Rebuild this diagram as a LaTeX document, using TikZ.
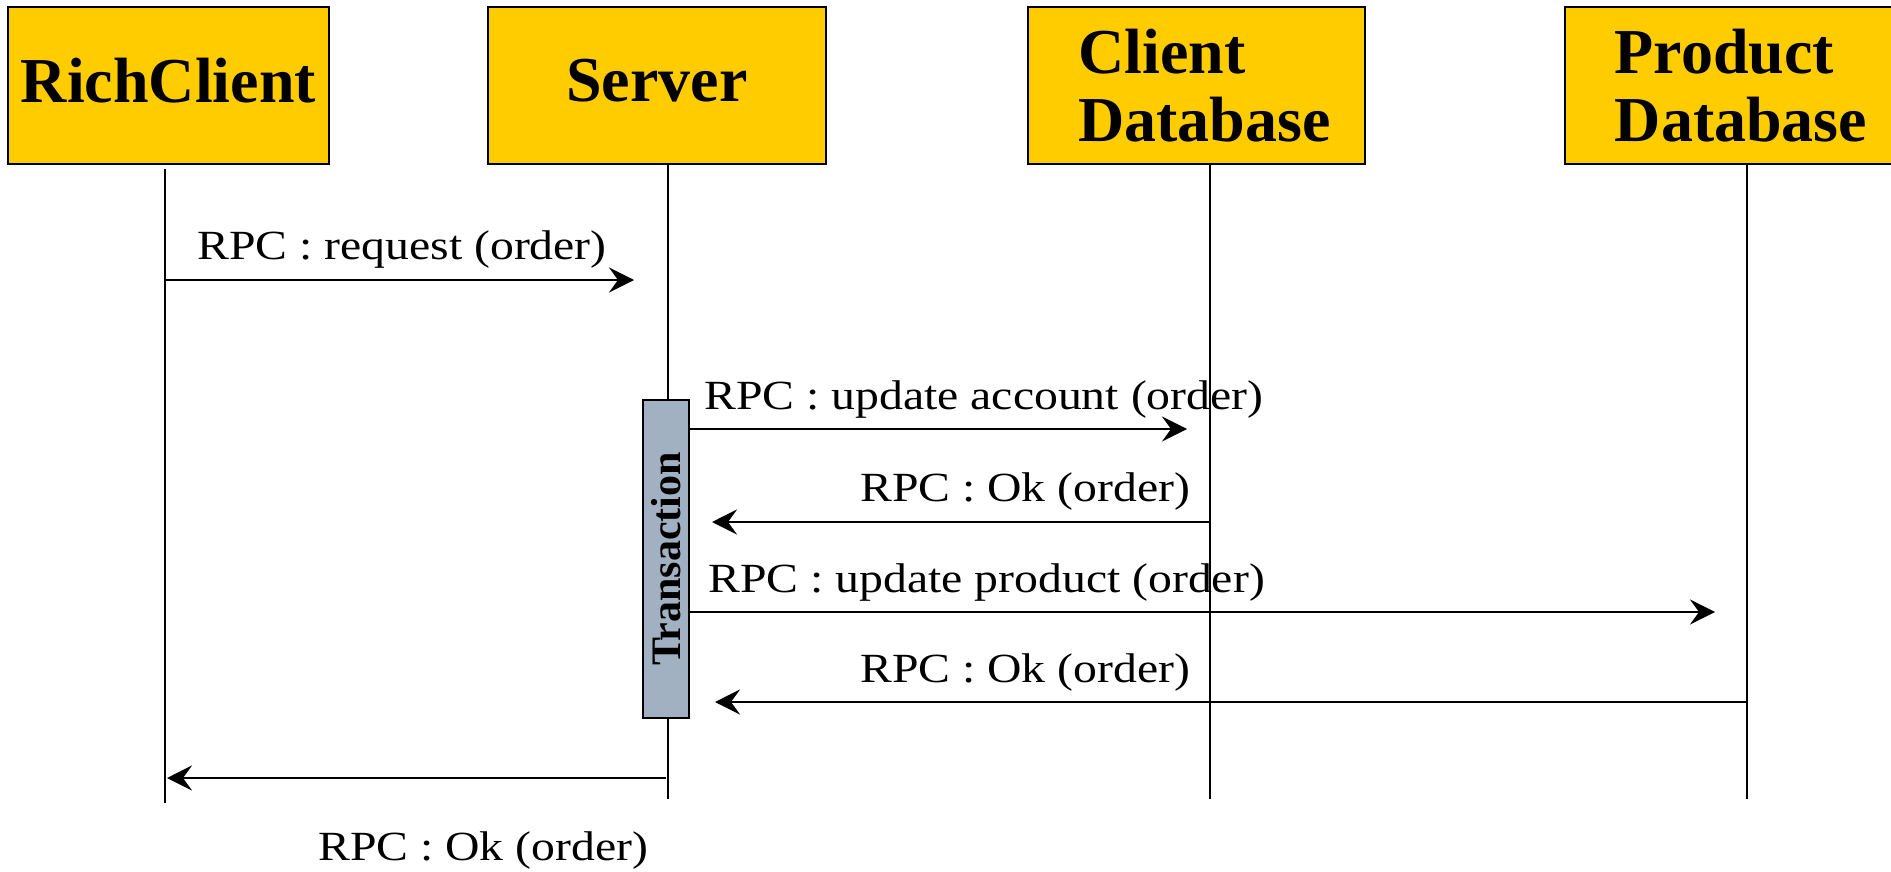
\documentclass[tikz,border=0pt]{standalone}
\usepackage{fontspec}
\setmainfont{Liberation Serif}
\newfontfamily\msgfont[FakeStretch=1.15]{Liberation Serif}
\usetikzlibrary{arrows.meta}
\definecolor{actorfill}{HTML}{FFCC00}
\definecolor{actfill}{HTML}{A2B1C1}
\tikzset{
  actor/.style={draw=black, line width=2.5pt, fill=actorfill, inner sep=0pt,
    font=\bfseries\fontsize{64}{68}\selectfont, align=left},
  lifeline/.style={line width=1.8pt},
  activation/.style={draw=black, line width=2.5pt, fill=actfill, inner sep=0pt},
  msg/.style={line width=2.2pt, -{Stealth[length=25pt,width=25pt,inset=9pt]}},
  msglabel/.style={anchor=base west, inner sep=0pt, font=\msgfont\fontsize{41.5}{49}\selectfont}
}
\begin{document}
\begin{tikzpicture}[x=1pt,y=-1pt]
\useasboundingbox (0,0) rectangle (1891,872);
\clip (0,0) rectangle (1891,872);

% participants
\node[actor, minimum width=321pt, minimum height=157pt, text depth=10pt] (rc) at (168.5,85.5) {RichClient};
\node[actor, minimum width=338pt, minimum height=157pt, text depth=10pt] (srv) at (657,85.5) {Server};
\node[actor, minimum width=337pt, minimum height=157pt] (cdb) at (1196.5,85.5) {\hspace*{16pt}Client\\\hspace*{16pt}Database};
\node[actor, minimum width=352pt, minimum height=157pt] (pdb) at (1741,85.5) {Product\\Database};

% lifelines
\coordinate (rcTop) at (165,169);  \coordinate (rcBot) at (165,803);
\coordinate (srvTop) at (668,164); \coordinate (srvBot) at (668,799);
\coordinate (cdbTop) at (1210,164); \coordinate (cdbBot) at (1210,799);
\coordinate (pdbTop) at (1747,164); \coordinate (pdbBot) at (1747,799);
\draw[lifeline] (rcTop) -- (rcBot);
\draw[lifeline] (srvTop) -- (srvBot);
\draw[lifeline] (cdbTop) -- (cdbBot);
\draw[lifeline] (pdbTop) -- (pdbBot);

% transaction activation bar
\node[activation, minimum width=46pt, minimum height=318pt] (tx) at (666,559) {};
\node[rotate=90, inner sep=0pt, font=\bfseries\fontsize{42}{48}\selectfont] (txlabel) at (tx.center) {Transaction};

% message end points
\coordinate (m1a) at (165,280);  \coordinate (m1b) at (634,280);
\coordinate (m2a) at (689,429);  \coordinate (m2b) at (1187,429);
\coordinate (m3a) at (1210,522); \coordinate (m3b) at (712,522);
\coordinate (m4a) at (689,612);  \coordinate (m4b) at (1715,612);
\coordinate (m5a) at (1747,702); \coordinate (m5b) at (715,702);
\coordinate (m6a) at (666,778);  \coordinate (m6b) at (167,778);

% messages
\draw[msg] (m1a) -- (m1b);
\draw[msg] (m2a) -- (m2b);
\draw[msg] (m3a) -- (m3b);
\draw[msg] (m4a) -- (m4b);
\draw[msg] (m5a) -- (m5b);
\draw[msg] (m6a) -- (m6b);

% message labels
\node[msglabel] (l1) at (197,259) {RPC : request (order)};
\node[msglabel] (l2) at (704,409) {RPC : update account (order)};
\node[msglabel] (l3) at (860,501) {RPC : Ok (order)};
\node[msglabel] (l4) at (708,592) {RPC : update product (order)};
\node[msglabel] (l5) at (860,682) {RPC : Ok (order)};
\node[msglabel] (l6) at (318,860) {RPC : Ok (order)};
\end{tikzpicture}
\end{document}
